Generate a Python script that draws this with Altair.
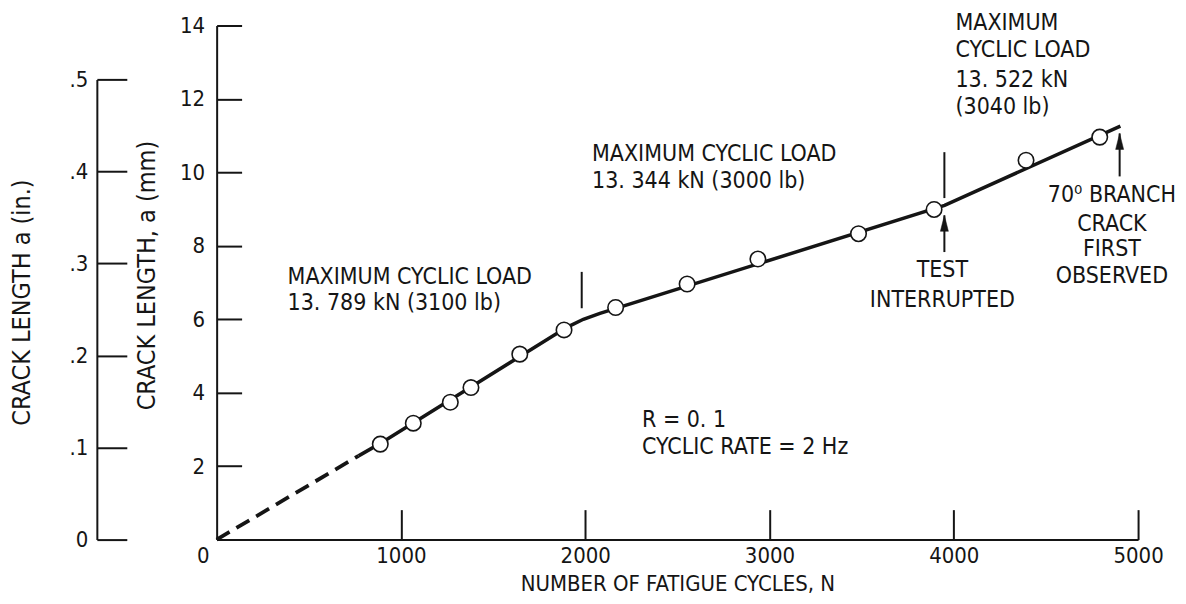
import altair as alt
import pandas as pd

# ---------------- data ----------------
cycles = [888, 1067, 1268, 1380, 1645, 1885, 2165, 2553, 2937, 3483, 3893, 4392, 4792]
crack_mm = [2.60, 3.17, 3.74, 4.14, 5.05, 5.71, 6.32, 6.96, 7.64, 8.33, 8.99, 10.33, 10.96]

fit_cycles = [770, 888, 1900, 1990, 2080, 3950, 4904]
fit_mm = [2.28, 2.62, 5.78, 6.00, 6.16, 9.10, 11.26]

extrap_cycles = [0, 770]
extrap_mm = [0.0, 2.28]

marker_cycles = [1981, 3949]
marker_lo = [6.30, 9.30]
marker_hi = [7.29, 10.55]

arrow_cycles = [3949, 4900]
arrow_tip = [8.83, 11.06]
arrow_tail = [7.83, 9.89]

left_notes = ["MAXIMUM CYCLIC LOAD", "13. 789 kN (3100 lb)",
              "MAXIMUM CYCLIC LOAD", "13. 344 kN (3000 lb)",
              "MAXIMUM", "CYCLIC LOAD", "13. 522 kN", " (3040 lb)",
              "R = 0. 1", "CYCLIC RATE = 2 Hz"]
left_x = [385, 385, 2037, 2037, 4009, 4009, 4009, 4009, 2308, 2308]
left_y = [7.15, 6.45, 10.50, 9.76, 14.07, 13.32, 12.51, 11.79, 3.26, 2.53]

center_notes = ["TEST", "INTERRUPTED", "70⁰ BRANCH", "CRACK", "FIRST", "OBSERVED"]
center_x = [3938, 3938, 4858, 4858, 4858, 4858]
center_y = [7.34, 6.52, 9.38, 8.60, 7.91, 7.17]

x_ticks = [0, 1000, 2000, 3000, 4000, 5000]
mm_ticks = [0, 2, 4, 6, 8, 10, 12, 14]
in_ticks = [0, 0.1, 0.2, 0.3, 0.4, 0.5]

# ---------------- styling ----------------
INK = "#151515"
FONT = "Liberation Sans Narrow, DejaVu Sans Condensed, Liberation Sans, sans-serif"
W, H = 923, 515

xs = alt.Scale(domain=[0, 5000], nice=False, zero=False)
ys = alt.Scale(domain=[0, 14], nice=False, zero=False)
ins = alt.Scale(domain=[0, 0.5], range=[H, 54], nice=False, zero=False)

pts = pd.DataFrame({"c": cycles, "m": crack_mm})
fit = pd.DataFrame({"c": fit_cycles, "m": fit_mm})
ext = pd.DataFrame({"c": extrap_cycles, "m": extrap_mm})
mk = pd.DataFrame({"c": marker_cycles, "lo": marker_lo, "hi": marker_hi})
ar = pd.DataFrame({"c": arrow_cycles, "tip": arrow_tip, "tail": arrow_tail})
ln = pd.DataFrame({"c": left_x, "m": left_y, "t": left_notes})
cn = pd.DataFrame({"c": center_x, "m": center_y, "t": center_notes})
anchor = pd.DataFrame({"c": [0], "m": [0], "i": [0]})

noaxis_x = alt.X("c:Q", scale=xs, axis=None)

# main line with the bottom x axis and left mm axis
main_line = alt.Chart(fit).mark_line(color=INK, strokeWidth=3.5).encode(
    x=alt.X("c:Q", scale=xs, axis=alt.Axis(
        orient="bottom", values=x_ticks, format="d", grid=False,
        ticks=False, tickSize=0, domainColor=INK, domainWidth=2,
        labelFont=FONT, labelFontSize=22, labelColor=INK, labelPadding=6,
        labelFlush=False,
        labelOffset={"condition": {"test": "datum.value == 0", "value": -14}, "value": 0},
        title="NUMBER OF FATIGUE CYCLES, N", titleFont=FONT, titleFontSize=22,
        titleFontWeight="normal", titleColor=INK, titlePadding=7)),
    y=alt.Y("m:Q", scale=ys, axis=alt.Axis(
        orient="left", values=mm_ticks, grid=False,
        labelExpr="datum.value == 0 ? '' : datum.label",
        ticks=False, tickSize=0, domainColor=INK, domainWidth=2,
        labelFont=FONT, labelFontSize=22, labelColor=INK, labelPadding=12,
        title="CRACK LENGTH, a (mm)", titleFont=FONT, titleFontSize=25,
        titleFontWeight="normal", titleColor=INK, titleX=-70, titleY=250,
        titleBaseline="middle", titleAngle=270)),
)

# inward tick marks for the mm / cycles axes
inner_ticks = alt.Chart(anchor).mark_point(opacity=0).encode(
    x=alt.X("c:Q", scale=xs, axis=alt.Axis(
        orient="top", offset=-H, values=x_ticks[1:], labels=False, domain=False,
        tickSize=30, tickWidth=2, tickColor=INK, grid=False, title=None)),
    y=alt.Y("m:Q", scale=ys, axis=alt.Axis(
        orient="right", offset=-W, values=mm_ticks[1:], labels=False, domain=False,
        tickSize=25, tickWidth=2, tickColor=INK, grid=False, title=None)),
)

# inch axis: labels + line
inch_axis = alt.Chart(anchor).mark_point(opacity=0).encode(
    x=noaxis_x,
    y=alt.Y("i:Q", scale=ins, axis=alt.Axis(
        orient="left", offset=120, values=in_ticks, grid=False,
        labelExpr="datum.value == 0 ? '0' : replace(format(datum.value, '.1f'), '0.', '.')",
        ticks=False, tickSize=0, domainColor=INK, domainWidth=2,
        labelFont=FONT, labelFontSize=22, labelColor=INK, labelPadding=9,
        title="CRACK LENGTH  a (in.)", titleFont=FONT, titleFontSize=25,
        titleFontWeight="normal", titleColor=INK, titleX=-75, titleY=277,
        titleBaseline="middle", titleAngle=270)),
)

# inch axis: ticks pointing right
inch_ticks = alt.Chart(anchor).mark_point(opacity=0).encode(
    x=noaxis_x,
    y=alt.Y("i:Q", scale=ins, axis=alt.Axis(
        orient="right", offset=-(W + 120), values=in_ticks, labels=False, domain=False,
        tickSize=30, tickWidth=2, tickColor=INK, grid=False, title=None)),
)

dashed = alt.Chart(ext).mark_line(color=INK, strokeWidth=3.8, strokeDash=[15, 8]).encode(
    x=noaxis_x, y=alt.Y("m:Q", scale=ys, axis=None))

markers = alt.Chart(mk).mark_rule(color=INK, strokeWidth=2).encode(
    x=noaxis_x, y=alt.Y("lo:Q", scale=ys, axis=None), y2="hi:Q")

shafts = alt.Chart(ar).mark_rule(color=INK, strokeWidth=2).encode(
    x=noaxis_x, y=alt.Y("tail:Q", scale=ys, axis=None), y2="tip:Q")

heads = alt.Chart(ar).mark_point(
    shape="M0,0L0.5,2L-0.5,2Z", size=256, filled=True, fill=INK, stroke=INK,
    strokeWidth=0.5, opacity=1).encode(
    x=noaxis_x, y=alt.Y("tip:Q", scale=ys, axis=None))

circles = alt.Chart(pts).mark_point(
    shape="circle", size=240, filled=True, fill="white", stroke=INK,
    strokeWidth=1.6, opacity=1).encode(
    x=noaxis_x, y=alt.Y("m:Q", scale=ys, axis=None))

txt_left = alt.Chart(ln).mark_text(
    font=FONT, fontSize=23, color=INK, align="left", baseline="middle").encode(
    x=noaxis_x, y=alt.Y("m:Q", scale=ys, axis=None), text="t:N")

txt_center = alt.Chart(cn).mark_text(
    font=FONT, fontSize=23, color=INK, align="center", baseline="middle").encode(
    x=noaxis_x, y=alt.Y("m:Q", scale=ys, axis=None), text="t:N")

chart = alt.layer(
    main_line, inner_ticks, inch_axis, inch_ticks, dashed, markers,
    shafts, heads, circles, txt_left, txt_center
).resolve_scale(y="independent").resolve_axis(x="independent", y="independent").properties(
    width=W, height=H,
    autosize=alt.AutoSizeParams(type="none"),
    padding={"left": 209, "top": 17, "right": 40, "bottom": 60},
    background="white",
).configure_view(stroke=None)

chart.save("out.html", embed_options={"renderer": "svg", "actions": False})
